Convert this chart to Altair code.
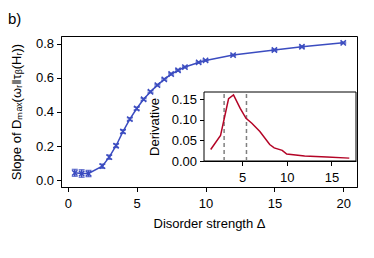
import altair as alt
import pandas as pd

# Main curve
disorder = [0.5, 1.0, 1.5, 2.5, 3.0, 3.5, 4.0, 4.5, 5.0, 5.5, 6.0, 6.5, 7.0, 7.5,
            8.0, 8.5, 9.5, 10.0, 12.0, 15.0, 17.0, 20.0]
slope = [0.043, 0.039, 0.039, 0.082, 0.135, 0.202, 0.285, 0.358, 0.42, 0.474,
         0.518, 0.557, 0.591, 0.622, 0.644, 0.663, 0.69, 0.702, 0.733, 0.763,
         0.782, 0.805]
slope_err = [0.02, 0.022, 0.018, 0.012, 0.012, 0.01, 0.01, 0.008, 0.008, 0.006,
             0.006, 0.005, 0.005, 0.005, 0.005, 0.004, 0.004, 0.004, 0.004, 0.004,
             0.004, 0.004]

# Inset derivative
d_x = [1.5, 2.6, 3.1, 3.5, 4.05, 4.8, 5.45, 6.1, 7.0, 8.1, 8.6, 9.5, 10.0, 12.0, 14.5, 17.0]
d_y = [0.028, 0.062, 0.112, 0.152, 0.161, 0.128, 0.104, 0.092, 0.072, 0.040, 0.032,
       0.026, 0.017, 0.012, 0.010, 0.007]
vlines = [3.0, 5.5]

BLUE = "#3b4cc0"
RED = "#b40426"
FONT = "Liberation Sans"

W, H = 296, 151
INS_L, INS_R = 143, 295
INS_T, INS_B = 56, 125
IX_DOM = [0.75, 17.75]
IY_DOM = [0.0, 0.168]

main_df = pd.DataFrame({
    "x": disorder, "y": slope,
    "lo": [s - e for s, e in zip(slope, slope_err)],
    "hi": [s + e for s, e in zip(slope, slope_err)],
})
der_df = pd.DataFrame({"x": d_x, "y": d_y})
vl_df = pd.DataFrame({"x": vlines})
frame_df = pd.DataFrame({"x": [IX_DOM[0]], "x2": [IX_DOM[1]], "y": [IY_DOM[0]], "y2": [IY_DOM[1]]})

Y_TITLE = "Slope of Dₘₐₓ(ωᵣ‖τᵦ(Hᵣ))"
X_TITLE = "Disorder strength Δ"
mx_scale = alt.Scale(domain=[-0.5, 21], nice=False, zero=False)
my_scale = alt.Scale(domain=[-0.04, 0.845], nice=False, zero=False)
mx_axis = alt.Axis(values=[0, 5, 10, 15, 20], title=X_TITLE, grid=False, titlePadding=7,
                   labelPadding=6, labelOverlap=False)
my_axis = alt.Axis(values=[0.0, 0.2, 0.4, 0.6, 0.8], format=".1f", grid=False,
                   title=Y_TITLE, titlePadding=12, labelPadding=3, labelOverlap=False)


def mx(field):
    return alt.X(field, scale=mx_scale, axis=mx_axis, title=X_TITLE)


def my(field):
    return alt.Y(field, scale=my_scale, axis=my_axis, title=Y_TITLE)


base = alt.Chart(main_df)
main_line = base.mark_line(color=BLUE, strokeWidth=1.5).encode(x=mx("x:Q"), y=my("y:Q"))
main_err = base.mark_errorbar(ticks=alt.MarkConfig(size=6), color=BLUE, thickness=1.5).encode(
    x=mx("x:Q"), y=my("lo:Q"), y2="hi:Q")
main_pts = base.mark_point(shape="M-1,-1L1,1M-1,1L1,-1", filled=False, color=BLUE,
                           strokeWidth=1.5, size=28, opacity=1).encode(x=mx("x:Q"), y=my("y:Q"))
main = alt.layer(main_line, main_err, main_pts)

ix_scale = alt.Scale(domain=IX_DOM, range=[INS_L, INS_R], nice=False, zero=False)
iy_scale = alt.Scale(domain=IY_DOM, range=[INS_B, INS_T], nice=False, zero=False)
ix_axis = alt.Axis(orient="bottom", offset=-(H - INS_B), values=[5, 10, 15], title=None,
                   grid=False, labelPadding=6, labelOverlap=False)
iy_axis = alt.Axis(orient="left", offset=-INS_L, values=[0, 0.05, 0.10, 0.15], format=".2f",
                   title="Derivative", grid=False, titlePadding=10, labelPadding=3,
                   labelOverlap=False)


def ix(field):
    return alt.X(field, scale=ix_scale, axis=ix_axis, title=None)


def iy(field):
    return alt.Y(field, scale=iy_scale, axis=iy_axis, title="Derivative")


frame = alt.Chart(frame_df).mark_rect(fill="white", stroke="black", strokeWidth=1).encode(
    x=ix("x:Q"), x2="x2:Q", y=iy("y:Q"), y2="y2:Q")
dashes = alt.Chart(vl_df).mark_rule(color="#808080", strokeWidth=1.5, strokeDash=[4, 3]).encode(
    x=ix("x:Q"), y=alt.datum(IY_DOM[0]), y2=alt.datum(IY_DOM[1]))
der_line = alt.Chart(der_df).mark_line(color=RED, strokeWidth=1.5).encode(x=ix("x:Q"), y=iy("y:Q"))
inset = alt.layer(frame, dashes, der_line)

chart = alt.layer(main, inset).resolve_scale(x="independent", y="independent").properties(
    width=W, height=H,
    title=alt.TitleParams("b)", anchor="start", frame="group", dx=-53, dy=-5,
                          fontSize=15, fontWeight="normal", font=FONT, color="black"),
    padding={"left": 53, "top": 28, "right": 9, "bottom": 55},
    autosize=alt.AutoSizeParams(type="none"),
).configure_view(stroke="black", strokeWidth=1).configure_axis(
    domainColor="black", tickColor="black", labelColor="black", titleColor="black",
    labelFont=FONT, titleFont=FONT, labelFontSize=13, titleFontSize=13,
    titleFontWeight="normal", tickSize=4.5, domainWidth=1, tickWidth=1,
)

chart.save("out.html", embed_options={"renderer": "svg", "actions": False})
